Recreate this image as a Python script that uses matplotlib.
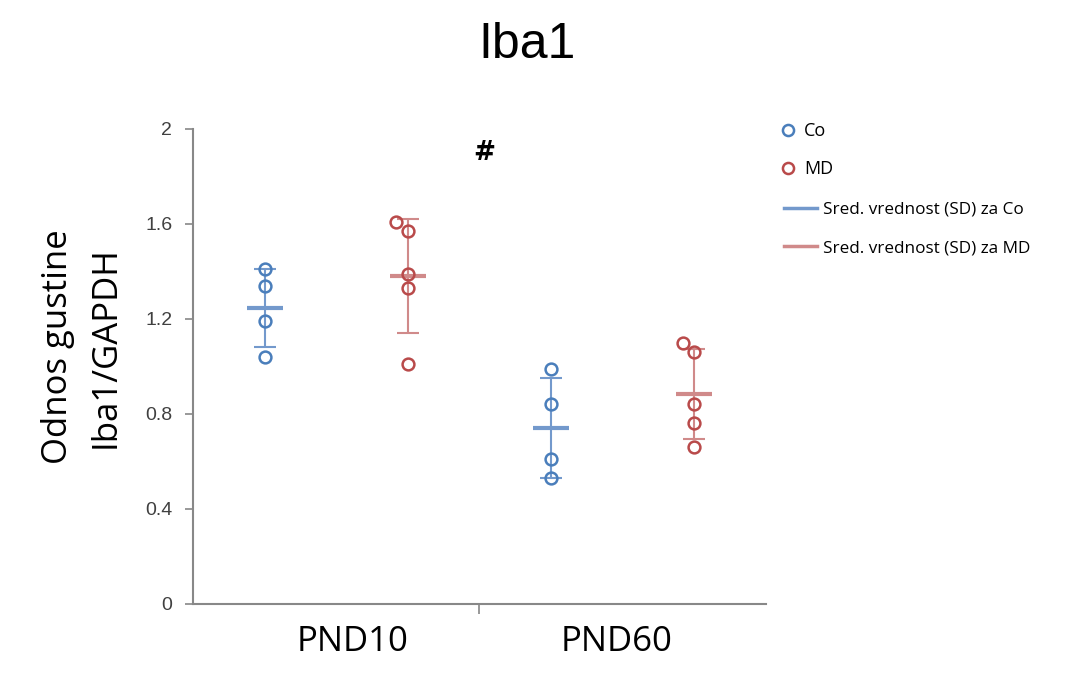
import numpy as np
import matplotlib
matplotlib.use('Agg')
import matplotlib.pyplot as plt
from matplotlib.lines import Line2D

# data
groups = ['PND10', 'PND60']
co_pts = [[1.41, 1.34, 1.19, 1.04],
          [0.99, 0.84, 0.61, 0.53]]
md_pts = [[1.61, 1.57, 1.39, 1.33, 1.01],
          [1.10, 1.06, 0.84, 0.76, 0.66]]
# small sideways shift of overlapping circles
md_shift = [[-0.04, 0, 0, 0, 0],
            [-0.04, 0, 0, 0, 0]]
co_shift = [[0, 0, 0, 0],
            [0, 0, 0, 0]]
yticks = [0, 0.4, 0.8, 1.2, 1.6, 2]
ytick_labels = ['0', '0.4', '0.8', '1.2', '1.6', '2']

blue = '#4a7ebb'
blue_l = '#7399cc'
red = '#b94a4a'
red_l = '#d08a8a'

fig = plt.figure(figsize=(10.89, 6.98), dpi=100)
ax = fig.add_axes([0.1772, 0.1347, 0.5262, 0.6805])

def draw_group(x, pts, shift, col, lcol):
    pts = np.array(pts)
    m = pts.mean()
    sd = pts.std(ddof=1)
    ax.errorbar([x], [m], yerr=[sd], fmt='none', ecolor=lcol, elinewidth=1.5,
                capsize=8, capthick=1.5, zorder=2)
    ax.plot([x - 0.063, x + 0.063], [m, m], color=lcol, lw=3, solid_capstyle='butt', zorder=2)
    ax.plot(x + np.array(shift), pts, 'o', ms=8.5, mfc='none', mec=col, mew=1.8, zorder=3)

for i in range(len(groups)):
    draw_group(i - 0.25, co_pts[i], co_shift[i], blue, blue_l)
    draw_group(i + 0.25, md_pts[i], md_shift[i], red, red_l)

ax.set_xlim(-0.5, 1.5)
ax.set_ylim(0, 2)
ax.set_yticks(yticks)
ax.set_yticklabels(ytick_labels, fontfamily='Liberation Sans', fontsize=14, color='#404040')
ax.set_xticks([0.5])
ax.set_xticklabels([''])
ax.tick_params(axis='y', direction='out', length=6, width=1.2, color='#888888', pad=9)
ax.tick_params(axis='x', direction='out', length=7, width=1.2, color='#888888')
# group labels sit a little right of the category centres in the original
label_x = [0.058, 0.98]
for i, g in enumerate(groups):
    ax.text(label_x[i], -0.09, g, ha='center', va='top', fontsize=25, fontfamily='Open Sans')
for s in ['top', 'right']:
    ax.spines[s].set_visible(False)
for s in ['left', 'bottom']:
    ax.spines[s].set_color('#888888')
    ax.spines[s].set_linewidth(1.5)

ax.text(0.516, 1.9, '#', ha='center', va='center', fontsize=19, fontweight='bold')

fig.text(0.484, 0.935, 'Iba1', ha='center', va='center', fontsize=36, fontfamily='Liberation Sans')
fig.text(0.053, 0.503, 'Odnos gustine', rotation=90, ha='center', va='center',
         fontsize=25, fontfamily='Open Sans')
fig.text(0.097, 0.503, 'Iba1/GAPDH', rotation=90, ha='center', va='center',
         fontsize=25, fontfamily='Open Sans')

h1 = [Line2D([], [], ls='none', marker='o', ms=8, mfc='none', mec=blue, mew=1.8),
      Line2D([], [], ls='none', marker='o', ms=8, mfc='none', mec=red, mew=1.8)]
leg1 = fig.legend(h1, ['Co', 'MD'], loc='upper left', bbox_to_anchor=(0.7083, 0.838),
                  frameon=False, borderpad=0, handlelength=0.8, handletextpad=0.5,
                  labelspacing=1.1, prop={'family': 'Open Sans', 'size': 13})
h2 = [Line2D([], [], color=blue_l, lw=2.5), Line2D([], [], color=red_l, lw=2.5)]
leg2 = fig.legend(h2, ['Sred. vrednost (SD) za Co', 'Sred. vrednost (SD) za MD'],
                  loc='upper left', bbox_to_anchor=(0.7125, 0.723),
                  frameon=False, borderpad=0, handlelength=1.9, handletextpad=0.35,
                  labelspacing=1.3, prop={'family': 'Open Sans', 'size': 12.3})

fig.savefig('out.png', dpi=100, facecolor='white')
